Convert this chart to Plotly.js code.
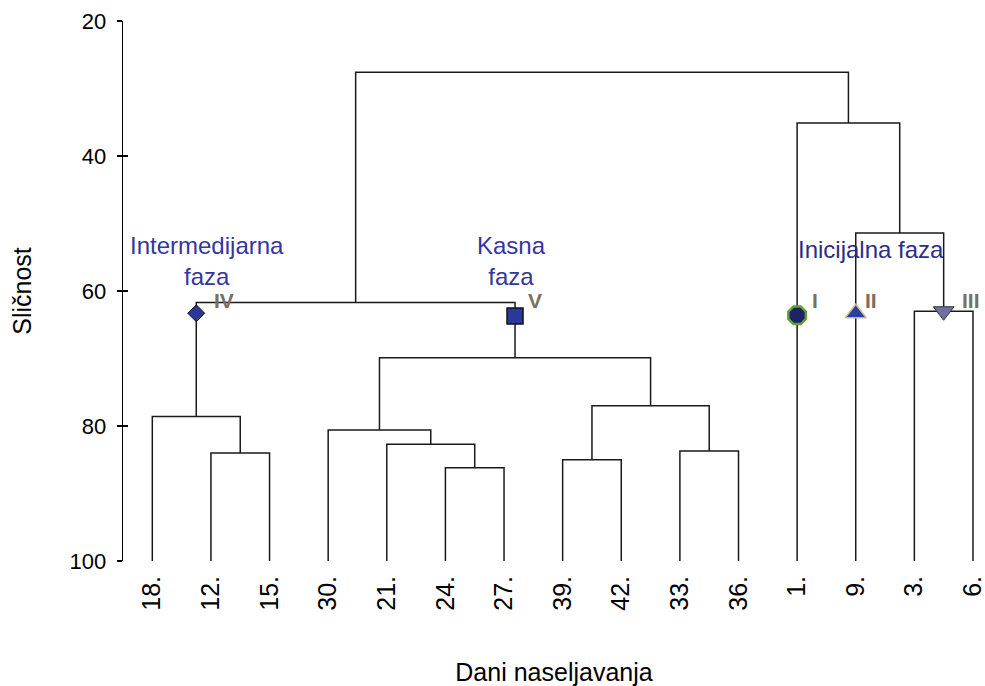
<!DOCTYPE html>
<html><head><meta charset="utf-8">
<script src="https://cdn.plot.ly/plotly-3.0.1.min.js"></script>
<style>html,body{margin:0;padding:0;background:#fff}</style>
</head><body><div id="chart" style="width:985px;height:686px"></div>
<script>
// ---- data ----
const leafLabels = ['18.','12.','15.','30.','21.','24.','27.','39.','42.','33.','36.','1.','9.','3.','6.'];
// linkage: children are leaf indices (0..14) or cluster ids (15+)
const mergeLeft   = [1, 0, 5, 4, 3, 7, 9, 20, 19, 16, 13, 12, 11, 24];
const mergeRight  = [2, 15, 6, 17, 18, 8, 10, 21, 22, 23, 14, 25, 26, 27];
const mergeHeight = [84.0, 78.6, 86.2, 82.7, 80.6, 85.0, 83.7, 77.0, 69.9, 61.7, 63.0, 51.4, 35.1, 27.6];
const leafSim = 100;

const phaseNames = ['IV', 'V', 'I', 'II', 'III'];
const phaseNode  = [16, 23, 11, 12, 25];
const phaseSim   = [63.3, 63.7, 63.6, 63.3, 63.0];
const phaseLabelSim = 61.4;

const groupLabels = ['Intermedijarna<br>faza', 'Kasna<br>faza', 'Inicijalna faza'];
const groupX = [0.93, 6.13, 12.26];
const groupY = [55.6, 55.6, 53.8];

const yTicks = [20, 40, 60, 80, 100];

// ---- build dendrogram geometry ----
const nodeX = leafLabels.map((_, i) => i);
const nodeH = leafLabels.map(() => leafSim);
const lx = [], ly = [];
mergeHeight.forEach((h, k) => {
  const a = mergeLeft[k], b = mergeRight[k];
  lx.push(nodeX[a], nodeX[a], nodeX[b], nodeX[b], null);
  ly.push(nodeH[a], h, h, nodeH[b], null);
  nodeX.push((nodeX[a] + nodeX[b]) / 2);
  nodeH.push(h);
});

const FONT = 'Liberation Sans, Arial, sans-serif';

const traces = [
  {x: lx, y: ly, mode: 'lines', type: 'scatter', line: {color: '#1a1a1a', width: 1.5}, hoverinfo: 'skip', showlegend: false},
  {x: phaseNode.map(i => nodeX[i]), y: phaseSim, mode: 'markers', type: 'scatter', showlegend: false,
   marker: {
     symbol: ['diamond', 'square', 'octagon', 'triangle-up', 'triangle-down'],
     size: [13, 16, 19, 18, 18],
     color: ['#2c3896', '#2a3898', '#1e2266', '#2a3ea0', '#7070a2'],
     opacity: 1,
     line: {color: ['#111111', '#111111', '#5fa030', '#c9b98e', '#333333'], width: [1, 1.5, 2.5, 1.5, 1]}
   }},
  {x: [0], y: [20], yaxis: 'y2', mode: 'markers', marker: {opacity: 0}, hoverinfo: 'skip', showlegend: false}
];

const romanShift = [16, 11, 13, 7, 16];
const annotations = [];
phaseNames.forEach((t, i) => {
  annotations.push({x: nodeX[phaseNode[i]], y: phaseLabelSim, xref: 'x', yref: 'y', text: '<b>' + t + '</b>',
    showarrow: false, xanchor: 'left', yanchor: 'middle', xshift: romanShift[i],
    font: {family: FONT, size: 21, color: '#7a6f62'}});
});
groupLabels.forEach((t, i) => {
  annotations.push({x: groupX[i], y: groupY[i], xref: 'x', yref: 'y', text: t, showarrow: false,
    xanchor: 'center', yanchor: 'middle',
    font: {family: FONT, size: 24, color: i === 2 ? '#2d2d86' : '#3535a0'}});
});

const layout = {
  width: 985, height: 686,
  margin: {l: 123, r: 0, t: 21, b: 125},
  paper_bgcolor: '#ffffff', plot_bgcolor: '#ffffff',
  font: {family: FONT, color: '#000'},
  showlegend: false,
  xaxis: {
    range: [-0.5, 14.205], tickmode: 'array', tickvals: leafLabels.map((_, i) => i), ticktext: leafLabels,
    tickangle: -90, showline: false, ticks: '', showgrid: false, zeroline: false,
    tickfont: {family: FONT, size: 25, color: '#000'}, ticklabelstandoff: 9, ticklabeloverflow: 'allow',
    title: {text: 'Dani naseljavanja', font: {family: FONT, size: 25, color: '#000'}, standoff: 61},
    automargin: false
  },
  yaxis: {
    range: [100, 20], tickmode: 'array', tickvals: yTicks, showline: true, linecolor: '#000', linewidth: 1.3,
    ticks: 'outside', ticklen: 5, tickwidth: 1.3, tickcolor: '#000', showgrid: false, zeroline: false,
    tickfont: {family: FONT, size: 22, color: '#000'}, ticklabelstandoff: 6,
    title: {text: 'Sličnost', font: {family: FONT, size: 25, color: '#000'}, standoff: 30},
    automargin: false
  },
  yaxis2: {
    overlaying: 'y', side: 'left', range: [100, 20], tickmode: 'array', tickvals: yTicks,
    ticks: 'inside', ticklen: 5, tickwidth: 1.3, tickcolor: '#000', showticklabels: false,
    showline: false, showgrid: false, zeroline: false
  },
  annotations: annotations
};

Plotly.newPlot('chart', traces, layout, {staticPlot: true, displayModeBar: false});
</script>
</body></html>
